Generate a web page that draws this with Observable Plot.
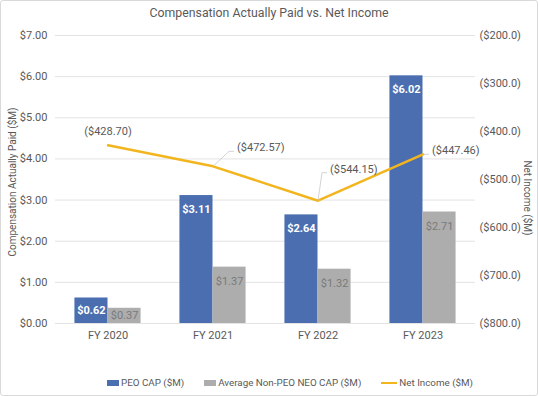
<!DOCTYPE html>
<html>
<head>
<meta charset="utf-8">
<script src="https://cdn.jsdelivr.net/npm/d3@7"></script>
<script src="https://cdn.jsdelivr.net/npm/@observablehq/plot@0.6"></script>
<style>
  html, body { margin: 0; padding: 0; background: #fff; }
  #wrap { position: relative; width: 538px; height: 396px; font-family: Roboto, "Liberation Sans", sans-serif; color: #595959; }
  #frame { position: absolute; left: 0; top: 0; width: 536px; height: 394px; border: 1px solid #d9d9d9; border-radius: 3px; pointer-events: none; }
  #title { position: absolute; left: 0; width: 538px; top: 6px; text-align: center; font-size: 12.3px; color: #595959; }
  #legend { position: absolute; left: 0; width: 538px; top: 377px; display: flex; justify-content: center; gap: 20px; font-size: 9.8px; color: #595959; padding-left: 42px; box-sizing: border-box;}
  .item { display: flex; align-items: center; gap: 2px; }
  .sw { width: 12px; height: 6px; display: inline-block; }
  .ln { width: 16px; height: 2px; display: inline-block; }
  .ytitle { position: absolute; font-size: 10px; color: #595959; white-space: nowrap; width: 0; height: 0; }
  .ytitle span { position: absolute; transform: translate(-50%, -50%); }
  svg { position: absolute; left: 0; top: 0; }
</style>
</head>
<body>
<div id="wrap">
  <div id="chart"></div>
  <div id="title">Compensation Actually Paid vs. Net Income</div>
  <div class="ytitle" id="ytl" style="left:12px; top:182px;"><span style="transform: translate(-50%, -50%) rotate(-90deg);">Compensation Actually Paid ($M)</span></div>
  <div class="ytitle" id="ytr" style="left:527px; top:198px;"><span style="transform: translate(-50%, -50%) rotate(90deg);">Net Income ($M)</span></div>
  <div id="legend"></div>
  <div id="frame"></div>
</div>
<script>
const years = ["FY 2020", "FY 2021", "FY 2022", "FY 2023"];
const peoCap = [0.62, 3.11, 2.64, 6.02];
const neoCap = [0.37, 1.37, 1.32, 2.71];
const netIncome = [-428.70, -472.57, -544.15, -447.46];
const leftTicks = [0, 1, 2, 3, 4, 5, 6, 7];
const rightTicks = [-800, -700, -600, -500, -400, -300, -200];
const seriesNames = ["PEO CAP ($M)", "Average Non-PEO NEO CAP ($M)", "Net Income ($M)"];

const colors = { peo: "#4A6EB0", neo: "#ADADAD", ni: "#F2B51E", text: "#595959", grid: "#e3e3e3" };
const fmtMoney = d => "$" + d.toFixed(2);
const fmtNeg = d => "($" + Math.abs(d).toFixed(1) + ")";
const fmtNeg2 = d => "($" + Math.abs(d).toFixed(2) + ")";

// right axis mapped onto left scale: -800 -> 0, -200 -> 7
const toLeft = v => (v + 800) / 600 * 7;

const bw = 0.315;
const data = years.map((y, i) => ({ year: y, i, peo: peoCap[i], neo: neoCap[i], ni: netIncome[i], niY: toLeft(netIncome[i]) }));

// label offsets for net income labels (pixels)
const niLabel = [
  { dx: 0, dy: -10, lead: false },
  { dx: 24, dy: -15, lead: true },
  { dx: 12, dy: -28, lead: true },
  { dx: 9, dy: 0, lead: true }
];

const chart = Plot.plot({
  width: 538,
  height: 396,
  marginTop: 35,
  marginBottom: 73,
  marginLeft: 55,
  marginRight: 63,
  style: { fontFamily: "Roboto, 'Liberation Sans', sans-serif", fontSize: "11px", color: colors.text, background: "transparent" },
  x: { domain: [-0.5, 3.5], axis: null },
  y: { domain: [0, 7], axis: null },
  marks: [
    Plot.ruleY(leftTicks, { y: d => d, stroke: colors.grid, strokeWidth: 1 }),
    Plot.rectY(data, { x1: d => d.i - bw, x2: d => d.i, y1: 0, y2: "peo", fill: colors.peo }),
    Plot.rectY(data, { x1: d => d.i, x2: d => d.i + bw, y1: 0, y2: "neo", fill: colors.neo }),
    Plot.text(data, { x: d => d.i - bw / 2, y: d => Math.max(d.peo - 0.34, d.peo / 2), text: d => fmtMoney(d.peo), fill: "white", fontSize: 11, fontWeight: "bold" }),
    Plot.text(data, { x: d => d.i + bw / 2, y: d => Math.max(d.neo - 0.34, d.neo / 2), text: d => fmtMoney(d.neo), fill: "#7a7a7a", fontSize: 11 }),
    Plot.line(data, { x: "i", y: "niY", stroke: colors.ni, strokeWidth: 2.5 }),
    // leader lines
    ...data.filter((d, i) => niLabel[i].lead).map(d => {
      const o = niLabel[d.i];
      return Plot.link([d], { x1: "i", y1: "niY", x2: "i", y2: "niY", stroke: "#c8c8c8", strokeWidth: 0.8,
        render: (index, scales, values, dims, ctx, next) => {
          const g = next(index, scales, values, dims, ctx);
          const p = g.querySelector("path, line");
          if (p) {
            const x = scales.x(d.i), y = scales.y(d.niY);
            const pts = d.i === 3 ? `M${x},${y}L${x + o.dx - 3},${y + o.dy}` : `M${x},${y}L${x + o.dx - 8},${y + o.dy}L${x + o.dx - 3},${y + o.dy}`;
            p.setAttribute("d", pts);
          }
          return g;
        }
      });
    }),
    Plot.text(data, { x: "i", y: "niY", text: d => fmtNeg2(d.ni), fill: colors.text, fontSize: 11,
      render: (index, scales, values, dims, ctx, next) => {
        const g = next(index, scales, values, dims, ctx);
        g.querySelectorAll("text").forEach((t, k) => {
          const i = index[k];
          const o = niLabel[i];
          const x = scales.x(data[i].i) + o.dx;
          const y = scales.y(data[i].niY) + o.dy;
          t.setAttribute("x", x); t.setAttribute("y", y);
          t.removeAttribute("transform");
          t.setAttribute("text-anchor", o.lead ? "start" : "middle");
        });
        return g;
      }
    }),
    Plot.axisY(leftTicks, { anchor: "left", tickSize: 0, tickPadding: 8, tickFormat: fmtMoney, fontSize: 11, fill: colors.text, label: null }),
    Plot.axisY(rightTicks.map(toLeft), { anchor: "right", tickSize: 0, tickPadding: 4, tickFormat: v => fmtNeg(v / 7 * 600 - 800), fontSize: 11, fill: colors.text, label: null }),
    Plot.axisX([0, 1, 2, 3], { anchor: "bottom", tickSize: 0, tickPadding: 8, tickFormat: i => years[i], fontSize: 11, fill: colors.text, label: null })
  ]
});
document.getElementById("chart").appendChild(chart);

const legend = document.getElementById("legend");
const swatches = [colors.peo, colors.neo, colors.ni];
seriesNames.forEach((name, k) => {
  const it = document.createElement("div");
  it.className = "item";
  const s = document.createElement("span");
  s.className = k < 2 ? "sw" : "ln";
  s.style.background = swatches[k];
  it.appendChild(s);
  const t = document.createElement("span");
  t.textContent = name;
  it.appendChild(t);
  legend.appendChild(it);
});
</script>
</body>
</html>
